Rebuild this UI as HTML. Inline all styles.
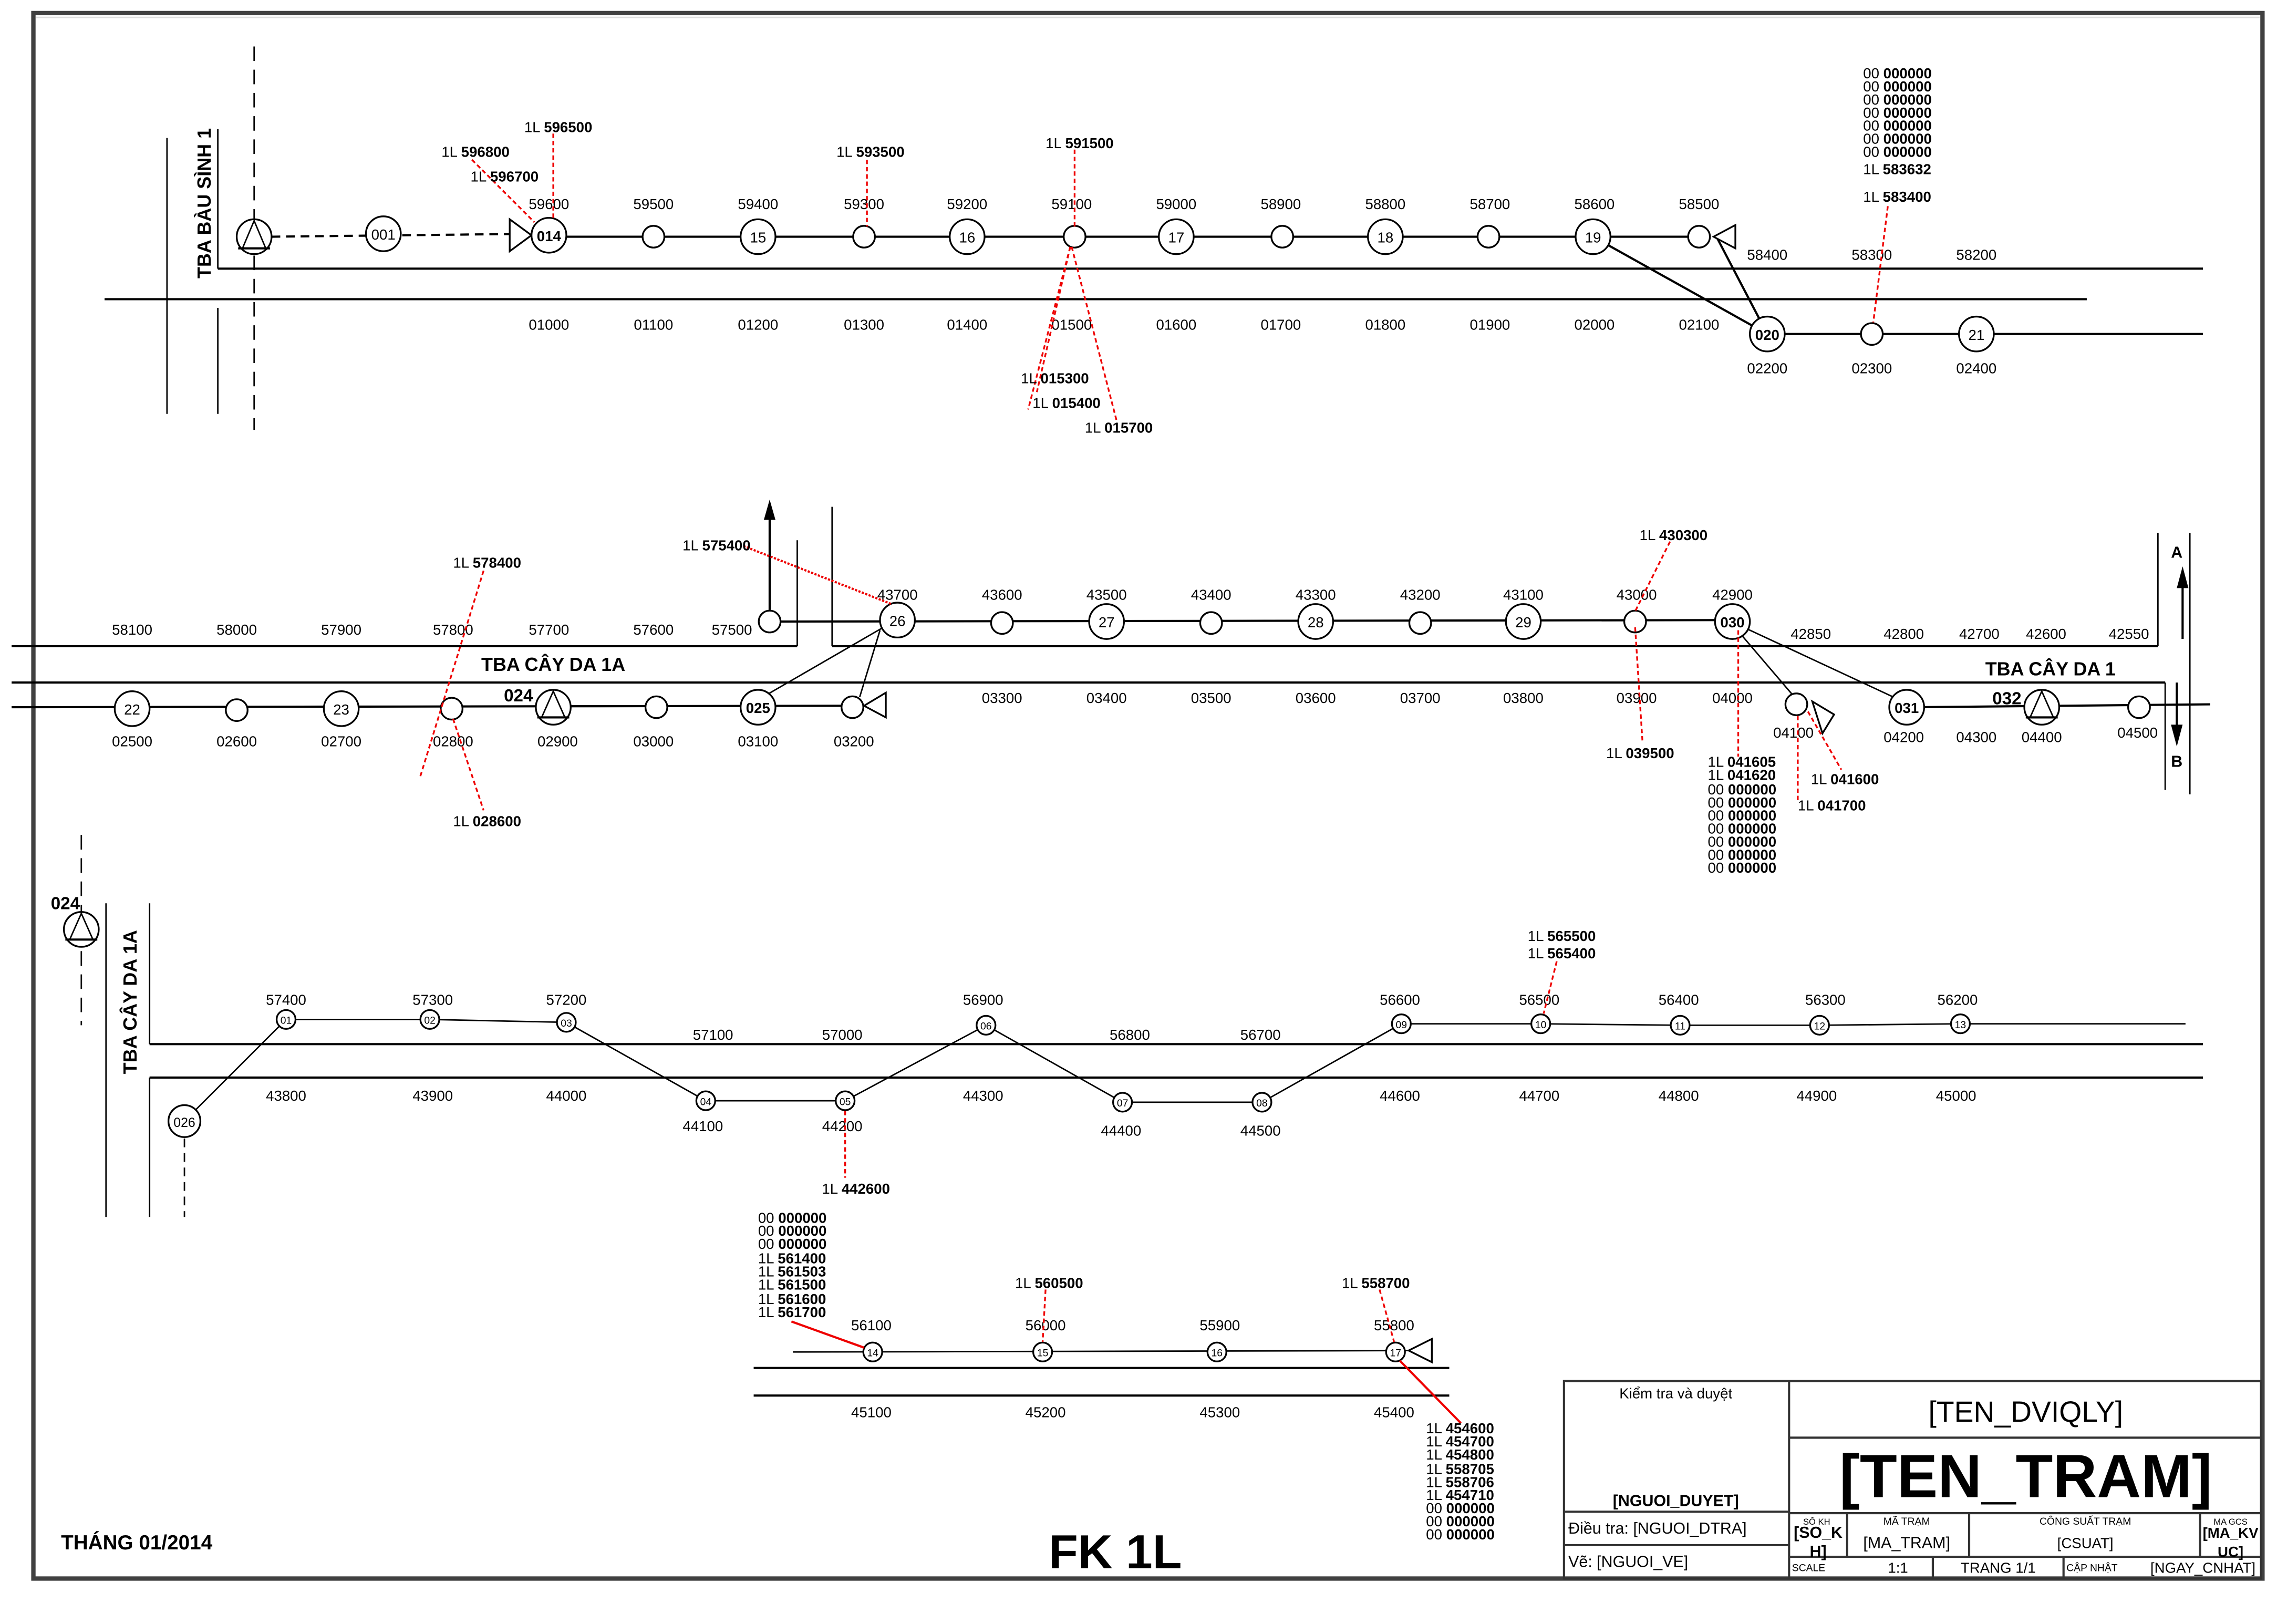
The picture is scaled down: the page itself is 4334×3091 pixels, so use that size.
<!DOCTYPE html>
<html><head><meta charset="utf-8"><style>
html,body{margin:0;padding:0;background:#fff;}
svg{display:block;}
text{font-family:"Liberation Sans Narrow","Liberation Sans",sans-serif;font-size:10px;fill:#000;}
.c{text-anchor:middle;}
.b{font-weight:bold;}
.r{stroke:#e00;stroke-width:1.2;stroke-dasharray:3,2;fill:none;}
.rs{stroke:#e00;stroke-width:1.5;fill:none;}
.l{stroke:#000;stroke-width:1.5;fill:none;}
.t{stroke:#000;stroke-width:1;fill:none;}
.n{stroke:#000;stroke-width:1.2;fill:#fff;}
.tb{stroke:#333;stroke-width:1.5;fill:none;}
</style></head><body>
<svg width="4334" height="3091" viewBox="0 0 1568 1118.3" preserveAspectRatio="none" xmlns="http://www.w3.org/2000/svg">
<rect x="0" y="0" width="1568" height="1118.3" fill="#fff"/>
<rect x="23" y="9" width="1535" height="1078" fill="none" stroke="#404040" stroke-width="3"/>
<line x1="25" y1="12" x2="1556" y2="12" stroke="#ddd" stroke-width="1"/>

<!-- ===== SECTION 1 ===== -->
<line x1="175" y1="32" x2="175" y2="296" stroke="#000" stroke-width="1" stroke-dasharray="10,6"/>
<line class="t" x1="115" y1="95" x2="115" y2="285"/>
<line class="t" x1="150" y1="89" x2="150" y2="185"/>
<line class="t" x1="150" y1="212" x2="150" y2="285"/>
<text class="b" transform="translate(145,140) rotate(-90)" text-anchor="middle" style="font-family:'Liberation Sans',sans-serif;font-size:13px">TBA BÀU SÌNH 1</text>
<line class="l" x1="150" y1="185" x2="1517" y2="185"/>
<line class="l" x1="72" y1="206" x2="1437" y2="206"/>
<line class="l" x1="1217" y1="230" x2="1517" y2="230"/>
<line x1="187" y1="163" x2="366" y2="161" stroke="#000" stroke-width="1.5" stroke-dasharray="6,4"/>
<line class="l" x1="378" y1="163" x2="1170" y2="163"/>
<line class="l" x1="1097" y1="163" x2="1217" y2="230"/>
<line class="l" x1="1182" y1="163" x2="1217" y2="230"/>
<!-- source -->
<circle class="n" cx="175" cy="163" r="12"/>
<polygon class="t" points="175,152 167,171 183,171"/>
<line class="l" x1="164" y1="171" x2="186" y2="171"/>
<circle class="n" cx="264" cy="161" r="12"/><text class="c" x="264" y="165">001</text>
<polygon class="n" points="351,151 366,162 351,173"/>
<g>
<circle class="n" cx="378" cy="162" r="12"/><text class="c b" x="378" y="166">014</text>
<circle class="n" cx="450" cy="163" r="7.5"/>
<circle class="n" cx="522" cy="163" r="12"/><text class="c" x="522" y="167">15</text>
<circle class="n" cx="595" cy="163" r="7.5"/>
<circle class="n" cx="666" cy="163" r="12"/><text class="c" x="666" y="167">16</text>
<circle class="n" cx="740" cy="163" r="7.5"/>
<circle class="n" cx="810" cy="163" r="12"/><text class="c" x="810" y="167">17</text>
<circle class="n" cx="883" cy="163" r="7.5"/>
<circle class="n" cx="954" cy="163" r="12"/><text class="c" x="954" y="167">18</text>
<circle class="n" cx="1025" cy="163" r="7.5"/>
<circle class="n" cx="1097" cy="163" r="12"/><text class="c" x="1097" y="167">19</text>
<circle class="n" cx="1170" cy="163" r="7.5"/>
<polygon class="n" points="1180,163 1195,155 1195,171"/>
<circle class="n" cx="1217" cy="230" r="12"/><text class="c b" x="1217" y="234">020</text>
<circle class="n" cx="1289" cy="230" r="7.5"/>
<circle class="n" cx="1361" cy="230" r="12"/><text class="c" x="1361" y="234">21</text>
</g>
<g class="c">
<text class="c" x="378" y="144">59600</text><text class="c" x="450" y="144">59500</text><text class="c" x="522" y="144">59400</text><text class="c" x="595" y="144">59300</text><text class="c" x="666" y="144">59200</text><text class="c" x="738" y="144">59100</text><text class="c" x="810" y="144">59000</text><text class="c" x="882" y="144">58900</text><text class="c" x="954" y="144">58800</text><text class="c" x="1026" y="144">58700</text><text class="c" x="1098" y="144">58600</text><text class="c" x="1170" y="144">58500</text>
<text class="c" x="1217" y="179">58400</text><text class="c" x="1289" y="179">58300</text><text class="c" x="1361" y="179">58200</text>
<text class="c" x="378" y="227">01000</text><text class="c" x="450" y="227">01100</text><text class="c" x="522" y="227">01200</text><text class="c" x="595" y="227">01300</text><text class="c" x="666" y="227">01400</text><text class="c" x="738" y="227">01500</text><text class="c" x="810" y="227">01600</text><text class="c" x="882" y="227">01700</text><text class="c" x="954" y="227">01800</text><text class="c" x="1026" y="227">01900</text><text class="c" x="1098" y="227">02000</text><text class="c" x="1170" y="227">02100</text>
<text class="c" x="1217" y="257">02200</text><text class="c" x="1289" y="257">02300</text><text class="c" x="1361" y="257">02400</text>
</g>
<!-- red 1 -->
<line class="r" x1="325" y1="110" x2="368" y2="153"/>
<line class="r" x1="381" y1="92" x2="381" y2="150"/>
<line class="r" x1="597" y1="110" x2="597" y2="156"/>
<line class="r" x1="740" y1="103" x2="740" y2="156"/>
<line class="r" x1="737" y1="170" x2="714" y2="270"/>
<line class="r" x1="737" y1="170" x2="708" y2="282"/>
<line class="r" x1="738" y1="170" x2="769" y2="290"/>
<line class="r" x1="1300" y1="142" x2="1290" y2="222"/>
<text x="304" y="108">1L  <tspan class="b">596800</tspan></text>
<text x="324" y="125">1L  <tspan class="b">596700</tspan></text>
<text x="361" y="91">1L  <tspan class="b">596500</tspan></text>
<text x="576" y="108">1L  <tspan class="b">593500</tspan></text>
<text x="720" y="102">1L  <tspan class="b">591500</tspan></text>
<text x="703" y="264">1L  <tspan class="b">015300</tspan></text>
<text x="711" y="281">1L  <tspan class="b">015400</tspan></text>
<text x="747" y="298">1L  <tspan class="b">015700</tspan></text>
<g>
<text x="1283" y="54">00  <tspan class="b">000000</tspan></text>
<text x="1283" y="63">00  <tspan class="b">000000</tspan></text>
<text x="1283" y="72">00  <tspan class="b">000000</tspan></text>
<text x="1283" y="81">00  <tspan class="b">000000</tspan></text>
<text x="1283" y="90">00  <tspan class="b">000000</tspan></text>
<text x="1283" y="99">00  <tspan class="b">000000</tspan></text>
<text x="1283" y="108">00  <tspan class="b">000000</tspan></text>
<text x="1283" y="120">1L  <tspan class="b">583632</tspan></text>
<text x="1283" y="139">1L  <tspan class="b">583400</tspan></text>
</g>

<!-- ===== SECTION 2 ===== -->
<line class="l" x1="8" y1="445" x2="549" y2="445"/>
<line class="t" x1="549" y1="372" x2="549" y2="445"/>
<line class="t" x1="573" y1="349" x2="573" y2="445"/>
<line class="l" x1="573" y1="445" x2="1486" y2="445"/>
<line class="t" x1="1486" y1="367" x2="1486" y2="445"/>
<line class="l" x1="8" y1="470" x2="1491" y2="470"/>
<line class="t" x1="1491" y1="470" x2="1491" y2="544"/>
<line class="t" x1="1508" y1="367" x2="1508" y2="547"/>
<line class="l" x1="1503" y1="440" x2="1503" y2="400"/><polygon points="1503,390 1499,405 1507,405" fill="#000"/>
<line class="l" x1="1499" y1="470" x2="1499" y2="505"/><polygon points="1499,514 1495,499 1503,499" fill="#000"/>
<text class="c b" x="1499" y="384" style="font-family:'Liberation Sans',sans-serif;font-size:11px">A</text>
<text class="c b" x="1499" y="528" style="font-family:'Liberation Sans',sans-serif;font-size:11px">B</text>
<line class="l" x1="530" y1="420" x2="530" y2="355"/><polygon points="530,344 526,358 534,358" fill="#000"/>
<!-- upper bus -->
<line class="l" x1="538" y1="428" x2="1193" y2="427"/>
<line class="t" x1="1203" y1="433" x2="1306" y2="481"/>
<line class="t" x1="1199" y1="437" x2="1234" y2="478"/>
<!-- lower bus -->
<line class="l" x1="8" y1="487" x2="580" y2="486"/>
<line class="l" x1="1318" y1="487" x2="1522" y2="485"/>
<line class="t" x1="527" y1="479" x2="610" y2="431"/>
<line class="t" x1="592" y1="480" x2="606" y2="434"/>
<circle class="n" cx="530" cy="428" r="7.5"/>
<circle class="n" cx="618" cy="427" r="12"/><text class="c" x="618" y="431">26</text>
<circle class="n" cx="690" cy="429" r="7.5"/>
<circle class="n" cx="762" cy="428" r="12"/><text class="c" x="762" y="432">27</text>
<circle class="n" cx="834" cy="429" r="7.5"/>
<circle class="n" cx="906" cy="428" r="12"/><text class="c" x="906" y="432">28</text>
<circle class="n" cx="978" cy="429" r="7.5"/>
<circle class="n" cx="1049" cy="428" r="12"/><text class="c" x="1049" y="432">29</text>
<circle class="n" cx="1126" cy="428" r="7.5"/>
<circle class="n" cx="1193" cy="428" r="12"/><text class="c b" x="1193" y="432">030</text>
<circle class="n" cx="1237" cy="485" r="7.5"/>
<polygon class="n" points="1248,483 1263,492 1255,505"/>
<circle class="n" cx="1313" cy="487" r="12"/><text class="c b" x="1313" y="491">031</text>
<circle class="n" cx="1406" cy="487" r="12"/><polygon class="t" points="1406,476 1398,494 1414,494"/><line class="l" x1="1395" y1="494" x2="1417" y2="494"/>
<circle class="n" cx="1473" cy="487" r="7.5"/>
<circle class="n" cx="91" cy="488" r="12"/><text class="c" x="91" y="492">22</text>
<circle class="n" cx="163" cy="489" r="7.5"/>
<circle class="n" cx="235" cy="488" r="12"/><text class="c" x="235" y="492">23</text>
<circle class="n" cx="311" cy="488" r="7.5"/>
<circle class="n" cx="381" cy="487" r="12"/><polygon class="t" points="381,476 373,494 389,494"/><line class="l" x1="370" y1="494" x2="392" y2="494"/>
<circle class="n" cx="452" cy="487" r="7.5"/>
<circle class="n" cx="522" cy="487" r="12"/><text class="c b" x="522" y="491">025</text>
<circle class="n" cx="587" cy="487" r="7.5"/>
<polygon class="n" points="595,486 610,477 610,494"/>
<text class="c b" x="357" y="483" style="font-size:12px">024</text>
<text class="c b" x="1382" y="485" style="font-size:12px">032</text>
<text class="c b" x="381" y="462" style="font-family:'Liberation Sans',sans-serif;font-size:13px">TBA CÂY DA 1A</text>
<text class="c b" x="1412" y="465" style="font-family:'Liberation Sans',sans-serif;font-size:13px">TBA CÂY DA 1</text>
<g>
<text class="c" x="91" y="437">58100</text><text class="c" x="163" y="437">58000</text><text class="c" x="235" y="437">57900</text><text class="c" x="312" y="437">57800</text><text class="c" x="378" y="437">57700</text><text class="c" x="450" y="437">57600</text><text class="c" x="504" y="437">57500</text>
<text class="c" x="618" y="413">43700</text><text class="c" x="690" y="413">43600</text><text class="c" x="762" y="413">43500</text><text class="c" x="834" y="413">43400</text><text class="c" x="906" y="413">43300</text><text class="c" x="978" y="413">43200</text><text class="c" x="1049" y="413">43100</text><text class="c" x="1127" y="413">43000</text><text class="c" x="1193" y="413">42900</text>
<text class="c" x="1247" y="440">42850</text><text class="c" x="1311" y="440">42800</text><text class="c" x="1363" y="440">42700</text><text class="c" x="1409" y="440">42600</text><text class="c" x="1466" y="440">42550</text>
<text class="c" x="91" y="514">02500</text><text class="c" x="163" y="514">02600</text><text class="c" x="235" y="514">02700</text><text class="c" x="312" y="514">02800</text><text class="c" x="384" y="514">02900</text><text class="c" x="450" y="514">03000</text><text class="c" x="522" y="514">03100</text><text class="c" x="588" y="514">03200</text>
<text class="c" x="690" y="484">03300</text><text class="c" x="762" y="484">03400</text><text class="c" x="834" y="484">03500</text><text class="c" x="906" y="484">03600</text><text class="c" x="978" y="484">03700</text><text class="c" x="1049" y="484">03800</text><text class="c" x="1127" y="484">03900</text><text class="c" x="1193" y="484">04000</text>
<text class="c" x="1235" y="508">04100</text><text class="c" x="1311" y="511">04200</text><text class="c" x="1361" y="511">04300</text><text class="c" x="1406" y="511">04400</text><text class="c" x="1472" y="508">04500</text>
</g>
<!-- red 2 -->
<line class="r" x1="333" y1="393" x2="289" y2="536"/>
<line class="r" x1="312" y1="495" x2="333" y2="558"/>
<line x1="512" y1="376" x2="614" y2="416" stroke="#e00" stroke-width="1.5" stroke-dasharray="1.5,1"/>
<line class="r" x1="1150" y1="373" x2="1126" y2="421"/>
<line class="r" x1="1126" y1="432" x2="1131" y2="510"/>
<line class="r" x1="1197" y1="434" x2="1197" y2="521"/>
<line class="r" x1="1238" y1="493" x2="1238" y2="553"/>
<line class="r" x1="1245" y1="490" x2="1268" y2="530"/>
<text x="312" y="391">1L  <tspan class="b">578400</tspan></text>
<text x="312" y="569">1L  <tspan class="b">028600</tspan></text>
<text x="470" y="379">1L  <tspan class="b">575400</tspan></text>
<text x="1129" y="372">1L  <tspan class="b">430300</tspan></text>
<text x="1106" y="522">1L  <tspan class="b">039500</tspan></text>
<text x="1247" y="540">1L  <tspan class="b">041600</tspan></text>
<text x="1238" y="558">1L  <tspan class="b">041700</tspan></text>
<g>
<text x="1176" y="528">1L  <tspan class="b">041605</tspan></text>
<text x="1176" y="537">1L  <tspan class="b">041620</tspan></text>
<text x="1176" y="547">00  <tspan class="b">000000</tspan></text>
<text x="1176" y="556">00  <tspan class="b">000000</tspan></text>
<text x="1176" y="565">00  <tspan class="b">000000</tspan></text>
<text x="1176" y="574">00  <tspan class="b">000000</tspan></text>
<text x="1176" y="583">00  <tspan class="b">000000</tspan></text>
<text x="1176" y="592">00  <tspan class="b">000000</tspan></text>
<text x="1176" y="601">00  <tspan class="b">000000</tspan></text>
</g>

<!-- ===== SECTION 3 ===== -->
<line x1="56" y1="575" x2="56" y2="706" stroke="#000" stroke-width="1" stroke-dasharray="10,6"/>
<circle class="n" cx="56" cy="640" r="12"/><polygon class="t" points="56,629 48,647 64,647"/><line class="l" x1="45" y1="647" x2="67" y2="647"/>
<text class="c b" x="45" y="626" style="font-size:12px">024</text>
<text class="b" transform="translate(94,690) rotate(-90)" text-anchor="middle" style="font-family:'Liberation Sans',sans-serif;font-size:13px">TBA CÂY DA 1A</text>
<line class="t" x1="73" y1="622" x2="73" y2="838"/>
<line class="t" x1="103" y1="622" x2="103" y2="719"/>
<line class="t" x1="103" y1="742" x2="103" y2="838"/>
<line class="l" x1="103" y1="719" x2="1517" y2="719"/>
<line class="l" x1="103" y1="742" x2="1517" y2="742"/>
<line x1="127" y1="784" x2="127" y2="838" stroke="#000" stroke-width="1" stroke-dasharray="6,4"/>
<polyline class="t" points="127,772 197,702 296,702 390,704 486,758 582,758 679,706 773,759 869,759 965,705 1061,705 1157,706 1253,706 1350,705 1505,705"/>
<circle class="n" cx="127" cy="772" r="11"/><text class="c" x="127" y="776" style="font-size:9px">026</text>
<g style="font-size:7px">
<circle class="n" cx="197" cy="702" r="6.5"/><text class="c" x="197" y="705" style="font-size:7px">01</text>
<circle class="n" cx="296" cy="702" r="6.5"/><text class="c" x="296" y="705" style="font-size:7px">02</text>
<circle class="n" cx="390" cy="704" r="6.5"/><text class="c" x="390" y="707" style="font-size:7px">03</text>
<circle class="n" cx="486" cy="758" r="6.5"/><text class="c" x="486" y="761" style="font-size:7px">04</text>
<circle class="n" cx="582" cy="758" r="6.5"/><text class="c" x="582" y="761" style="font-size:7px">05</text>
<circle class="n" cx="679" cy="706" r="6.5"/><text class="c" x="679" y="709" style="font-size:7px">06</text>
<circle class="n" cx="773" cy="759" r="6.5"/><text class="c" x="773" y="762" style="font-size:7px">07</text>
<circle class="n" cx="869" cy="759" r="6.5"/><text class="c" x="869" y="762" style="font-size:7px">08</text>
<circle class="n" cx="965" cy="705" r="6.5"/><text class="c" x="965" y="708" style="font-size:7px">09</text>
<circle class="n" cx="1061" cy="705" r="6.5"/><text class="c" x="1061" y="708" style="font-size:7px">10</text>
<circle class="n" cx="1157" cy="706" r="6.5"/><text class="c" x="1157" y="709" style="font-size:7px">11</text>
<circle class="n" cx="1253" cy="706" r="6.5"/><text class="c" x="1253" y="709" style="font-size:7px">12</text>
<circle class="n" cx="1350" cy="705" r="6.5"/><text class="c" x="1350" y="708" style="font-size:7px">13</text>
</g>
<g>
<text class="c" x="197" y="692">57400</text><text class="c" x="298" y="692">57300</text><text class="c" x="390" y="692">57200</text><text class="c" x="491" y="716">57100</text><text class="c" x="580" y="716">57000</text><text class="c" x="677" y="692">56900</text><text class="c" x="778" y="716">56800</text><text class="c" x="868" y="716">56700</text><text class="c" x="964" y="692">56600</text><text class="c" x="1060" y="692">56500</text><text class="c" x="1156" y="692">56400</text><text class="c" x="1257" y="692">56300</text><text class="c" x="1348" y="692">56200</text>
<text class="c" x="197" y="758">43800</text><text class="c" x="298" y="758">43900</text><text class="c" x="390" y="758">44000</text><text class="c" x="484" y="779">44100</text><text class="c" x="580" y="779">44200</text><text class="c" x="677" y="758">44300</text><text class="c" x="772" y="782">44400</text><text class="c" x="868" y="782">44500</text><text class="c" x="964" y="758">44600</text><text class="c" x="1060" y="758">44700</text><text class="c" x="1156" y="758">44800</text><text class="c" x="1251" y="758">44900</text><text class="c" x="1347" y="758">45000</text>
</g>
<line class="r" x1="582" y1="765" x2="582" y2="811"/>
<line class="r" x1="1072" y1="662" x2="1063" y2="698"/>
<text x="566" y="822">1L  <tspan class="b">442600</tspan></text>
<text x="1052" y="648">1L  <tspan class="b">565500</tspan></text>
<text x="1052" y="660">1L  <tspan class="b">565400</tspan></text>

<!-- ===== SECTION 4 ===== -->
<line class="t" x1="546" y1="931" x2="985" y2="930"/>
<line class="l" x1="519" y1="942" x2="998" y2="942"/>
<line class="l" x1="519" y1="961" x2="998" y2="961"/>
<circle class="n" cx="601" cy="931" r="6.5"/><text class="c" x="601" y="934" style="font-size:7px">14</text>
<circle class="n" cx="718" cy="931" r="6.5"/><text class="c" x="718" y="934" style="font-size:7px">15</text>
<circle class="n" cx="838" cy="931" r="6.5"/><text class="c" x="838" y="934" style="font-size:7px">16</text>
<circle class="n" cx="961" cy="931" r="6.5"/><text class="c" x="961" y="934" style="font-size:7px">17</text>
<polygon class="n" points="970,930 986,922 986,938"/>
<text class="c" x="600" y="916">56100</text><text class="c" x="720" y="916">56000</text><text class="c" x="840" y="916">55900</text><text class="c" x="960" y="916">55800</text>
<text class="c" x="600" y="976">45100</text><text class="c" x="720" y="976">45200</text><text class="c" x="840" y="976">45300</text><text class="c" x="960" y="976">45400</text>
<line class="rs" x1="545" y1="910" x2="595" y2="928"/>
<line class="r" x1="720" y1="888" x2="718" y2="924"/>
<line class="r" x1="950" y1="888" x2="960" y2="924"/>
<line class="rs" x1="964" y1="937" x2="1006" y2="980"/>
<text x="699" y="887">1L  <tspan class="b">560500</tspan></text>
<text x="924" y="887">1L  <tspan class="b">558700</tspan></text>
<g>
<text x="522" y="842">00  <tspan class="b">000000</tspan></text>
<text x="522" y="851">00  <tspan class="b">000000</tspan></text>
<text x="522" y="860">00  <tspan class="b">000000</tspan></text>
<text x="522" y="870">1L  <tspan class="b">561400</tspan></text>
<text x="522" y="879">1L  <tspan class="b">561503</tspan></text>
<text x="522" y="888">1L  <tspan class="b">561500</tspan></text>
<text x="522" y="898">1L  <tspan class="b">561600</tspan></text>
<text x="522" y="907">1L  <tspan class="b">561700</tspan></text>
</g>
<g>
<text x="982" y="987">1L  <tspan class="b">454600</tspan></text>
<text x="982" y="996">1L  <tspan class="b">454700</tspan></text>
<text x="982" y="1005">1L  <tspan class="b">454800</tspan></text>
<text x="982" y="1015">1L  <tspan class="b">558705</tspan></text>
<text x="982" y="1024">1L  <tspan class="b">558706</tspan></text>
<text x="982" y="1033">1L  <tspan class="b">454710</tspan></text>
<text x="982" y="1042">00  <tspan class="b">000000</tspan></text>
<text x="982" y="1051">00  <tspan class="b">000000</tspan></text>
<text x="982" y="1060">00  <tspan class="b">000000</tspan></text>
</g>

<text class="b" x="42" y="1067" style="font-family:'Liberation Sans',sans-serif;font-size:14px">THÁNG 01/2014</text>
<text class="c b" x="768" y="1080" style="font-family:'Liberation Sans',sans-serif;font-size:33px">FK 1L</text>

<!-- ===== TITLE BLOCK ===== -->
<rect class="tb" x="1077" y="951" width="480" height="136"/>
<line class="tb" x1="1232" y1="951" x2="1232" y2="1087"/>
<line class="tb" x1="1077" y1="1041" x2="1232" y2="1041"/>
<line class="tb" x1="1077" y1="1064" x2="1232" y2="1064"/>
<line class="tb" x1="1232" y1="990" x2="1557" y2="990"/>
<line class="tb" x1="1232" y1="1042" x2="1557" y2="1042"/>
<line class="tb" x1="1232" y1="1072" x2="1557" y2="1072"/>
<line class="tb" x1="1272" y1="1042" x2="1272" y2="1072"/>
<line class="tb" x1="1356" y1="1042" x2="1356" y2="1072"/>
<line class="tb" x1="1515" y1="1042" x2="1515" y2="1072"/>
<line class="tb" x1="1331" y1="1072" x2="1331" y2="1087"/>
<line class="tb" x1="1421" y1="1072" x2="1421" y2="1087"/>
<text class="c" x="1154" y="963" style="font-size:10px">Kiểm tra và duyệt</text>
<text class="c b" x="1154" y="1037" style="font-size:11px">[NGUOI_DUYET]</text>
<text x="1080" y="1056" style="font-size:11px">Điều tra: [NGUOI_DTRA]</text>
<text x="1080" y="1079" style="font-size:11px">Vẽ: [NGUOI_VE]</text>
<text class="c" x="1395" y="979" style="font-family:'Liberation Sans',sans-serif;font-size:20px">[TEN_DVIQLY]</text>
<text class="c b" x="1395" y="1031" style="font-family:'Liberation Sans',sans-serif;font-size:42px">[TEN_TRAM]</text>
<text class="c" x="1251" y="1050" style="font-size:6px">SỐ KH</text>
<text class="c b" x="1252" y="1059" style="font-size:11px">[SO_K</text>
<text class="c b" x="1252" y="1072" style="font-size:11px">H]</text>
<text class="c" x="1313" y="1050" style="font-size:7px">MÃ TRẠM</text>
<text class="c" x="1313" y="1066" style="font-size:11px">[MA_TRAM]</text>
<text class="c" x="1436" y="1050" style="font-size:7px">CÔNG SUẤT TRẠM</text>
<text class="c" x="1436" y="1066" style="font-size:10px">[CSUAT]</text>
<text class="c" x="1536" y="1050" style="font-size:6px">MA GCS</text>
<text class="c b" x="1536" y="1059" style="font-size:10px">[MA_KV</text>
<text class="c b" x="1536" y="1072" style="font-size:10px">UC]</text>
<text x="1234" y="1082" style="font-size:7px">SCALE</text>
<text class="c" x="1307" y="1083" style="font-size:10px">1:1</text>
<text class="c" x="1376" y="1083" style="font-size:10px">TRANG 1/1</text>
<text x="1423" y="1082" style="font-size:7px">CẬP NHẬT</text>
<text class="c" x="1517" y="1083" style="font-size:10px">[NGAY_CNHAT]</text>
</svg>
</body></html>
